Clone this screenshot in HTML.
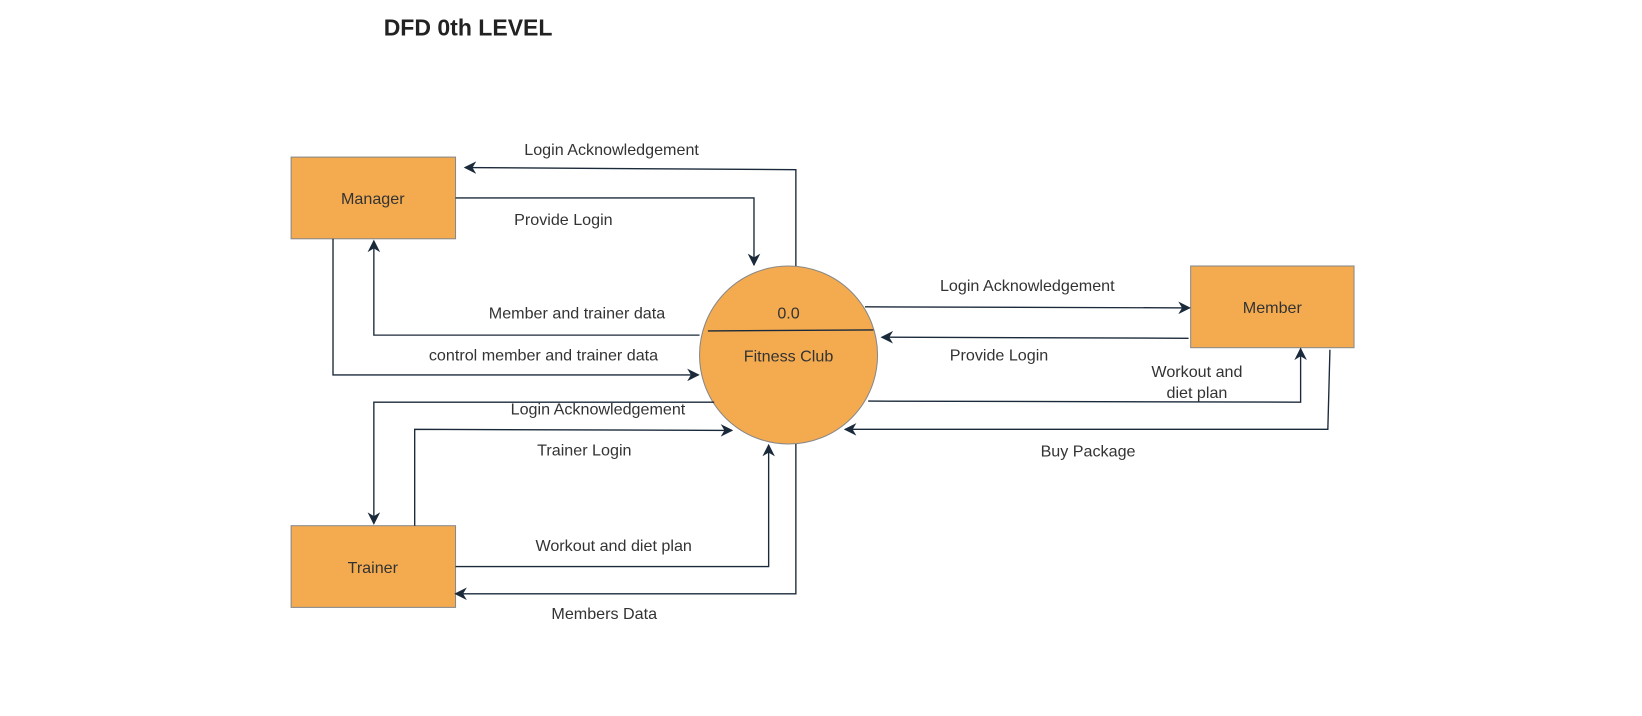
<!DOCTYPE html>
<html><head><meta charset="utf-8"><style>
html,body{margin:0;padding:0;background:#fff;}
svg{display:block;}
text{font-family:"Liberation Sans",sans-serif;font-size:15.4px;fill:#333;}
</style></head><body>
<svg width="1642" height="716" viewBox="0 0 1568 683.7" xmlns="http://www.w3.org/2000/svg">
<defs>
<marker id="a" viewBox="0 0 10 10" refX="9" refY="5" markerWidth="12" markerHeight="12" orient="auto" markerUnits="userSpaceOnUse">
<path d="M0,0 L10,5 L0,10 L3,5 Z" fill="#1b2a3a"/>
</marker>
</defs>
<text x="447" y="34" text-anchor="middle" style="font-size:22px;font-weight:bold;fill:#222">DFD 0th LEVEL</text>
<g fill="#f4ab50" stroke="#888" stroke-width="1">
<rect x="278" y="150" width="157" height="78"/>
<rect x="278" y="502" width="157" height="78"/>
<rect x="1137" y="254" width="156" height="78"/>
<circle cx="753" cy="339" r="85"/>
</g>
<line x1="676" y1="316" x2="834" y2="315" stroke="#1b2a3a" stroke-width="1.3"/>
<text x="753" y="304" text-anchor="middle">0.0</text>
<text x="753" y="345" text-anchor="middle">Fitness Club</text>
<text x="356" y="195" text-anchor="middle">Manager</text>
<text x="356" y="547" text-anchor="middle">Trainer</text>
<text x="1215" y="299" text-anchor="middle">Member</text>
<g fill="none" stroke="#1b2a3a" stroke-width="1.3" marker-end="url(#a)">
<path d="M760,254 V162 L444,160"/>
<path d="M435,189 H720 V253"/>
<path d="M668,320 H357 V230"/>
<path d="M318,228 V358 H667"/>
<path d="M682,384 H357 V500"/>
<path d="M396,502 V410 L699,411"/>
<path d="M435,541 H734 V425"/>
<path d="M760,424 V567 H435"/>
<path d="M826,293 L1136,294"/>
<path d="M1135,323 L842,322"/>
<path d="M829,383 L1242,384 V333"/>
<path d="M1270,334 L1268,410 H807"/>
</g>
<g text-anchor="middle">
<text x="584" y="148">Login Acknowledgement</text>
<text x="538" y="215">Provide Login</text>
<text x="551" y="304">Member and trainer data</text>
<text x="519" y="344">control member and trainer data</text>
<text x="571" y="396">Login Acknowledgement</text>
<text x="558" y="435">Trainer Login</text>
<text x="586" y="526">Workout and diet plan</text>
<text x="577" y="591">Members Data</text>
<text x="981" y="278">Login Acknowledgement</text>
<text x="954" y="344">Provide Login</text>
<text x="1143" y="360">Workout and</text>
<text x="1143" y="380">diet plan</text>
<text x="1039" y="436">Buy Package</text>
</g>
</svg>
</body></html>
